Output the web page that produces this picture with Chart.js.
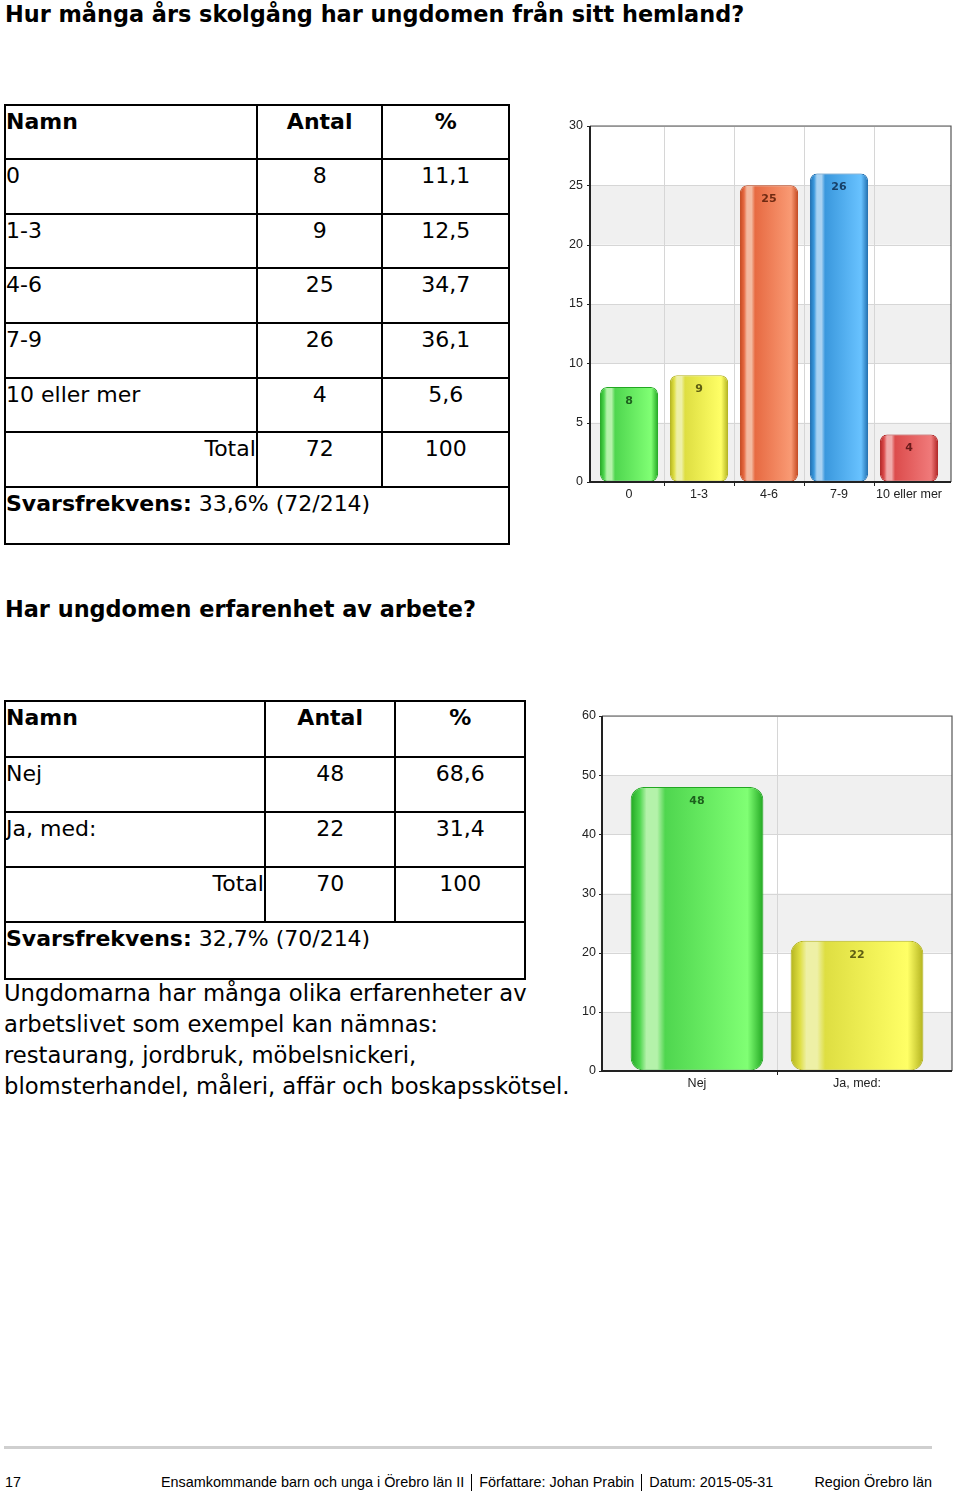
<!DOCTYPE html>
<html lang="sv">
<head>
<meta charset="utf-8">
<title>Skolgång och arbete</title>
<script src="https://cdn.jsdelivr.net/npm/chart.js@4.4.1/dist/chart.umd.min.js"></script>
<style>
  html, body { margin: 0; padding: 0; background: #fff; }
  body { width: 960px; height: 1495px; position: relative; overflow: hidden;
         font-family: "DejaVu Sans", Verdana, sans-serif; color: #000; }
  .title { position: absolute; left: 5px; font-size: 22.4px; font-weight: bold; line-height: 28px; margin: 0; white-space: nowrap; }
  table.res { position: absolute; left: 4px; border-collapse: collapse; font-size: 22px; }
  table.res td { border: 2px solid #000; vertical-align: top; padding: 4px 0 0 0; line-height: 24px; box-sizing: border-box; }
  table.res td.c { text-align: center; }
  table.res td.r { text-align: right; }
  table.res tr.h td { font-weight: bold; }
  .note { position: absolute; left: 4px; top: 978px; font-size: 22.7px; line-height: 31px; margin: 0; white-space: nowrap; }
  canvas { position: absolute; }
  .rule { position: absolute; left: 4px; top: 1446px; width: 928px; height: 3px; background: #cfcfcf; }
  .foot { position: absolute; top: 1474px; font-family: "Liberation Sans", Arial, sans-serif; font-size: 14.4px; line-height: 17px; white-space: nowrap; }
  .sep { display: inline-block; width: 1px; height: 17px; background: #000; vertical-align: -4px; margin: 0 7px; }
</style>
</head>
<body>

<h1 class="title" style="top:0">Hur många års skolgång har ungdomen från sitt hemland?</h1>

<table class="res" style="top:104px; width:506px">
  <colgroup><col style="width:253px"><col style="width:126px"><col style="width:127px"></colgroup>
  <tr class="h" style="height:54px"><td>Namn</td><td class="c">Antal</td><td class="c">%</td></tr>
  <tr style="height:55px"><td>0</td><td class="c">8</td><td class="c">11,1</td></tr>
  <tr style="height:54px"><td>1-3</td><td class="c">9</td><td class="c">12,5</td></tr>
  <tr style="height:55px"><td>4-6</td><td class="c">25</td><td class="c">34,7</td></tr>
  <tr style="height:55px"><td>7-9</td><td class="c">26</td><td class="c">36,1</td></tr>
  <tr style="height:54px"><td>10 eller mer</td><td class="c">4</td><td class="c">5,6</td></tr>
  <tr style="height:55px"><td class="r">Total</td><td class="c">72</td><td class="c">100</td></tr>
  <tr style="height:57px"><td colspan="3"><b>Svarsfrekvens:</b> 33,6% (72/214)</td></tr>
</table>

<canvas id="chart1" width="402" height="392" style="left:556px; top:116px"></canvas>

<h1 class="title" style="top:595px">Har ungdomen erfarenhet av arbete?</h1>

<table class="res" style="top:700px; width:522px">
  <colgroup><col style="width:261px"><col style="width:131px"><col style="width:130px"></colgroup>
  <tr class="h" style="height:56px"><td>Namn</td><td class="c">Antal</td><td class="c">%</td></tr>
  <tr style="height:55px"><td>Nej</td><td class="c">48</td><td class="c">68,6</td></tr>
  <tr style="height:55px"><td>Ja, med:</td><td class="c">22</td><td class="c">31,4</td></tr>
  <tr style="height:55px"><td class="r">Total</td><td class="c">70</td><td class="c">100</td></tr>
  <tr style="height:57px"><td colspan="3"><b>Svarsfrekvens:</b> 32,7% (70/214)</td></tr>
</table>

<p class="note">Ungdomarna har många olika erfarenheter av<br>arbetslivet som exempel kan nämnas:<br>restaurang, jordbruk, möbelsnickeri,<br>blomsterhandel, måleri, affär och boskapsskötsel.</p>

<canvas id="chart2" width="392" height="391" style="left:568px; top:706px"></canvas>

<div class="rule"></div>
<div class="foot" style="left:5px">17</div>
<div class="foot" style="left:161px">Ensamkommande barn och unga i Örebro län II<span class="sep"></span>Författare: Johan Prabin<span class="sep"></span>Datum: 2015-05-31</div>
<div class="foot" style="right:28px">Region Örebro län</div>

<script>
// data
const schoolLabels = ['0', '1-3', '4-6', '7-9', '10 eller mer'];
const schoolCounts = [8, 9, 25, 26, 4];
const schoolTicks = [0, 5, 10, 15, 20, 25, 30];

const workLabels = ['Nej', 'Ja, med:'];
const workCounts = [48, 22];
const workTicks = [0, 10, 20, 30, 40, 50, 60];

// bar colours
const GREEN  = { edge: '#22a722', main: '#4fd64f', light: '#b4f2aa', bright: '#80ff74', text: '#1d5f1d' };
const YELLOW = { edge: '#b3b31e', main: '#dede42', light: '#eef0a6', bright: '#ffff66', text: '#5e5e12' };
const ORANGE = { edge: '#c4481f', main: '#e76a42', light: '#f3b9a0', bright: '#f99a74', text: '#6e2a12' };
const BLUE   = { edge: '#1f6fb0', main: '#3a98dd', light: '#a8d2f2', bright: '#68c2ff', text: '#173f66' };
const RED    = { edge: '#b02424', main: '#dc4c4c', light: '#f0aaaa', bright: '#f07a7a', text: '#6a1a1a' };

const tickFont = { family: '"Liberation Sans", Arial, sans-serif', size: 12.5 };

function glossFill(pal, pct) {
  return function (ctx) {
    const chart = ctx.chart;
    const xs = chart.scales.x;
    const c = pal[ctx.dataIndex];
    if (!xs || !chart.chartArea) return c.main;
    const w = xs.width / chart.data.labels.length * pct;
    const left = xs.getPixelForValue(ctx.dataIndex) - w / 2;
    const g = chart.ctx.createLinearGradient(left, 0, left + w, 0);
    g.addColorStop(0, c.edge);
    g.addColorStop(0.07, c.main);
    g.addColorStop(0.12, c.light);
    g.addColorStop(0.2, c.light);
    g.addColorStop(0.26, c.main);
    g.addColorStop(0.88, c.bright);
    g.addColorStop(1, c.edge);
    return g;
  };
}

// plot frame is a bit wider than the category area
function frameOf(chart) {
  const a = chart.chartArea;
  const f = chart.options.plugins.frame;
  return { left: a.left - f.left, right: a.right + f.right, top: a.top, bottom: a.bottom };
}

const framePlugin = {
  id: 'frame',
  beforeDraw(chart) {
    const { ctx, scales: { y } } = chart;
    const fr = frameOf(chart);
    const ticks = y.ticks.map(t => t.value);
    ctx.save();
    ctx.fillStyle = '#f0f0f0';
    for (let i = 0; i < ticks.length - 1; i += 2) {
      const y0 = y.getPixelForValue(ticks[i]);
      const y1 = y.getPixelForValue(ticks[i + 1]);
      ctx.fillRect(fr.left, y1, fr.right - fr.left, y0 - y1);
    }
    ctx.strokeStyle = '#d6d6d6';
    ctx.lineWidth = 1;
    ticks.forEach(v => {
      const py = Math.round(y.getPixelForValue(v)) + 0.5;
      ctx.beginPath(); ctx.moveTo(fr.left, py); ctx.lineTo(fr.right, py); ctx.stroke();
    });
    ctx.restore();
  },
  afterDraw(chart) {
    const { ctx, scales: { y } } = chart;
    const fr = frameOf(chart);
    ctx.save();
    ctx.strokeStyle = '#555';
    ctx.lineWidth = 1.2;
    ctx.beginPath();
    ctx.moveTo(fr.left, fr.top); ctx.lineTo(fr.right, fr.top); ctx.lineTo(fr.right, fr.bottom);
    ctx.stroke();
    ctx.strokeStyle = '#222';
    ctx.lineWidth = 2;
    ctx.beginPath();
    ctx.moveTo(fr.left, fr.top); ctx.lineTo(fr.left, fr.bottom); ctx.lineTo(fr.right, fr.bottom);
    ctx.stroke();
    ctx.lineWidth = 1;
    y.ticks.forEach(t => {
      const py = Math.round(y.getPixelForValue(t.value)) + 0.5;
      ctx.beginPath(); ctx.moveTo(fr.left - 3, py); ctx.lineTo(fr.left, py); ctx.stroke();
    });
    ctx.restore();
  }
};

const valuePlugin = {
  id: 'values',
  afterDatasetsDraw(chart, args, opts) {
    const { ctx } = chart;
    const meta = chart.getDatasetMeta(0);
    const ds = chart.data.datasets[0];
    ctx.save();
    ctx.font = 'bold 11px "DejaVu Sans", Verdana, sans-serif';
    ctx.textAlign = 'center';
    ctx.textBaseline = 'middle';
    meta.data.forEach((bar, i) => {
      ctx.fillStyle = opts.colors[i].text;
      ctx.fillText(ds.data[i], bar.x, bar.y + 14);
    });
    ctx.restore();
  }
};

function makeChart(id, labels, values, ticks, pal, cfg) {
  const n = labels.length;
  // hide the outer offset grid lines (first one and the extra closing one)
  const inner = c => (c.index === undefined || c.index === 0 || c.index >= n) ? 'rgba(0,0,0,0)' : null;
  return new Chart(document.getElementById(id), {
    type: 'bar',
    data: {
      labels: labels,
      datasets: [{
        data: values,
        backgroundColor: glossFill(pal, cfg.pct),
        borderColor: pal.map(c => c.edge),
        borderWidth: 1,
        borderRadius: cfg.radius,
        borderSkipped: false,
        barPercentage: cfg.pct,
        categoryPercentage: 1
      }]
    },
    options: {
      responsive: false,
      animation: false,
      layout: { padding: cfg.pad },
      plugins: {
        legend: { display: false },
        tooltip: { enabled: false },
        values: { colors: pal },
        frame: cfg.frame
      },
      scales: {
        x: {
          grid: {
            offset: true,
            color: c => inner(c) || '#d6d6d6',
            tickColor: c => inner(c) || '#222',
            tickLength: 4
          },
          border: { display: false },
          ticks: { color: '#222', font: tickFont, padding: 1, maxRotation: 0, autoSkip: false },
          afterFit: s => { s.height = 22; }
        },
        y: {
          min: ticks[0],
          max: ticks[ticks.length - 1],
          // transparent ticks only set the gap between labels and the axis
          grid: { color: 'rgba(0,0,0,0)', drawTicks: true, tickLength: cfg.gap },
          border: { display: false },
          ticks: { stepSize: ticks[1] - ticks[0], color: '#222', font: tickFont, padding: 0 },
          afterFit: s => { s.width = cfg.yWidth; }
        }
      }
    },
    plugins: [framePlugin, valuePlugin]
  });
}

makeChart('chart1', schoolLabels, schoolCounts, schoolTicks,
  [GREEN, YELLOW, ORANGE, BLUE, RED],
  { pct: 0.83, radius: 7, yWidth: 36, gap: 11,
    frame: { left: 4, right: 7 },
    pad: { left: 2, right: 14, top: 10, bottom: 4 } });

makeChart('chart2', workLabels, workCounts, workTicks,
  [GREEN, YELLOW],
  { pct: 0.83, radius: 13, yWidth: 47, gap: 21,
    frame: { left: 15, right: 15 },
    pad: { left: 2, right: 23, top: 10, bottom: 4 } });
</script>
</body>
</html>
